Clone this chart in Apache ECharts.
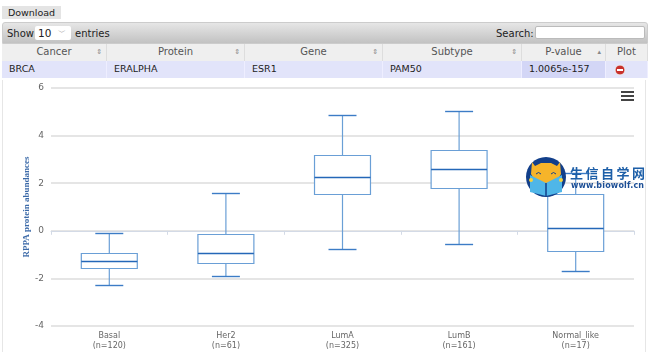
<!DOCTYPE html>
<html><head><meta charset="utf-8">
<script src="https://cdn.jsdelivr.net/npm/echarts@6/dist/echarts.min.js"></script>
<style>
html,body{margin:0;padding:0;background:#fff;width:650px;height:352px;overflow:hidden;font-family:"DejaVu Sans",sans-serif;color:#222}
.abs{position:absolute;box-sizing:border-box}
#dl{left:2px;top:6px;width:59px;height:13px;background:#e4e4e4;font-size:9.5px;line-height:13px;text-align:center;color:#222}
#bar{left:2px;top:22px;width:646px;height:22px;background:linear-gradient(#e6e6e6,#c2c2c2);border:1px solid #ccc;border-radius:3px 3px 0 0;font-size:10px;line-height:21px}
#sel{left:35px;top:26px;width:36px;height:14px;background:#fff;border-radius:2px;font-size:10.5px;line-height:14px;padding-left:3px}
#sel i{position:absolute;right:5px;top:0;font-style:normal;font-size:8px;color:#999}
#inp{left:535px;top:26px;width:110px;height:13px;background:#fff;border:1px solid #bbb;border-radius:2px}
.h{top:44px;height:17px;background:#efefef;border-right:1px solid #ddd;font-size:10px;line-height:16px;text-align:center;color:#555}
.c{top:61px;height:17px;background:#e2e4fa;border-right:1px solid #eef;font-size:9.5px;line-height:16px;padding-left:7px;color:#222}
.s{position:absolute;right:4px;top:0;font-size:7px;color:#888}
#chart{left:0;top:80px;width:650px;height:272px}
#bl{left:2px;top:80px;width:1px;height:272px;background:#e6e6e6}
#br{left:645px;top:80px;width:1px;height:272px;background:#e6e6e6}
#logo{left:520px;top:150px;width:130px;height:56px}
</style></head><body>
<div class="abs" id="dl">Download</div>
<div class="abs" id="bar"><span style="position:absolute;left:4px">Show</span><span style="position:absolute;left:72px">entries</span><span style="position:absolute;left:493px">Search:</span></div>
<div class="abs" id="sel">10<i>﹀</i></div>
<div class="abs" id="inp"></div>
<div id="tbl"></div>
<div class="abs" id="bl"></div><div class="abs" id="br"></div>
<div class="abs" id="chart"></div>
<svg class="abs" id="logo" viewBox="0 0 130 56">
 <circle cx="26" cy="27" r="20" fill="#123f8a"/>
 <path d="M12 12 L15 16 L21 13 H31 L37 16 L40 12 L41 24 L35 34 H17 L11 24Z" fill="#f6b42a"/>
 <path d="M10 25 L26 33 L42 25 V42 L26 46 L10 42Z" fill="#4fb6e8"/>
 <path d="M26 33 V46" stroke="#123f8a" stroke-width="1.5"/>
 <path d="M16 24 q2.5 -3 5 0 M31 24 q2.5 -3 5 0" stroke="#123f8a" fill="none"/>
 <circle cx="11" cy="30" r="2" fill="#f6d33a"/><circle cx="41" cy="30" r="2" fill="#f6d33a"/>
 <text x="50" y="27.5" font-family="Noto Sans CJK SC" font-weight="700" font-size="13" fill="#1d5fa8" textLength="75">生信自学网</text>
 <text x="51" y="38" font-family="DejaVu Sans" font-weight="700" font-size="8" fill="#1d4f96" textLength="73">www.biowolf.cn</text>
</svg>
<script>
var categories=["Basal","Her2","LumA","LumB","Normal_like"];
var counts=[120,61,325,161,17];
var whiskerLow=[-2.28,-1.9,-0.76,-0.55,-1.69];
var quartile1=[-1.56,-1.35,1.53,1.8,-0.85];
var medians=[-1.27,-0.93,2.28,2.58,0.1];
var quartile3=[-0.95,-0.13,3.18,3.4,1.53];
var whiskerHigh=[-0.09,1.59,4.87,5.03,2.44];
var headers=["Cancer","Protein","Gene","Subtype","P-value","Plot"];
var rowCells=["BRCA","ERALPHA","ESR1","PAM50","1.0065e-157",""];
var colEdges=[2,107,245,383,522,606,648];

var tbl=document.getElementById('tbl'),html='';
headers.forEach(function(h,i){
  var st='left:'+colEdges[i]+'px;width:'+(colEdges[i+1]-colEdges[i])+'px';
  var sort=i==5?'':(i==4?'▴':'⇕');
  html+='<div class="abs h" style="'+st+'">'+h+'<span class="s">'+sort+'</span></div>';
  html+='<div class="abs c" style="'+st+(i==4?';background:#d3d6f6':'')+'">'+rowCells[i]+'</div>';
});
html+='<svg class="abs" style="left:614px;top:64px" width="12" height="12"><circle cx="6" cy="6" r="5" fill="#c9302c" stroke="#eee"/><rect x="3" y="5" width="6" height="2" fill="#fff"/></svg>';
tbl.innerHTML=html;

var chart=echarts.init(document.getElementById('chart'),null,{renderer:'canvas'});
var data=categories.map(function(c,i){return [i,whiskerLow[i],quartile1[i],medians[i],quartile3[i],whiskerHigh[i]];});
var boxColor='#6a9fd6',medColor='#2467b8',capColor='#3c7cc6';
chart.setOption({
  animation:false,
  grid:{left:51,right:16,top:8,bottom:26},
  xAxis:{type:'category',data:categories.map(function(c,i){return c+'\n(n='+counts[i]+')';}),
    boundaryGap:true,
    axisLine:{lineStyle:{color:'#d3dae6',width:1}},
    axisTick:{show:true,length:4,lineStyle:{color:'#d3dae6'},alignWithLabel:false},
    axisLabel:{color:'#666',fontSize:8,lineHeight:10,margin:5,fontFamily:'DejaVu Sans'},
    splitLine:{show:false}},
  yAxis:{type:'value',min:-4,max:6,interval:2,
    name:'RPPA protein abundances',nameLocation:'middle',nameGap:20,nameRotate:90,nameMoveOverlap:false,
    nameTextStyle:{color:'#3c6aa8',fontSize:9,fontWeight:'bold',fontFamily:'Liberation Serif'},
    axisLine:{show:false},axisTick:{show:false},
    axisLabel:{color:'#666',fontSize:9,margin:7,fontFamily:'DejaVu Sans'},
    splitLine:{lineStyle:{color:'#dcdcdc',width:1.5}}},
  series:[{type:'custom',encode:{x:0,y:[1,2,3,4,5]},data:data,clip:false,
    renderItem:function(params,api){
      var i=api.value(0);
      var bw=api.size([1,0])[0];
      var hw=bw*0.24, cw=bw*0.12;
      var x=api.coord([i,0])[0];
      function Y(d){return Math.round(api.coord([i,api.value(d)])[1])+0.5;}
      var lo=Y(1),q1=Y(2),md=Y(3),q3=Y(4),hi=Y(5);
      function ln(x1,y1,x2,y2,c,w){return {type:'line',shape:{x1:x1,y1:y1,x2:x2,y2:y2},style:{stroke:c,lineWidth:w}};}
      return {type:'group',children:[
        ln(x,hi,x,q3,boxColor,1.2),
        ln(x,q1,x,lo,boxColor,1.2),
        ln(x-cw,hi,x+cw,hi,capColor,1.4),
        ln(x-cw,lo,x+cw,lo,capColor,1.4),
        {type:'rect',shape:{x:x-hw,y:q3,width:hw*2,height:q1-q3},style:{fill:'#fff',stroke:boxColor,lineWidth:1.2}},
        ln(x-hw,md,x+hw,md,medColor,1.6)
      ]};
    }}],
  graphic:[0,4,8].map(function(dy){
    return {type:'rect',left:621,top:11+dy,shape:{width:13,height:2},style:{fill:'#444'}};
  })
});
</script>
</body></html>
